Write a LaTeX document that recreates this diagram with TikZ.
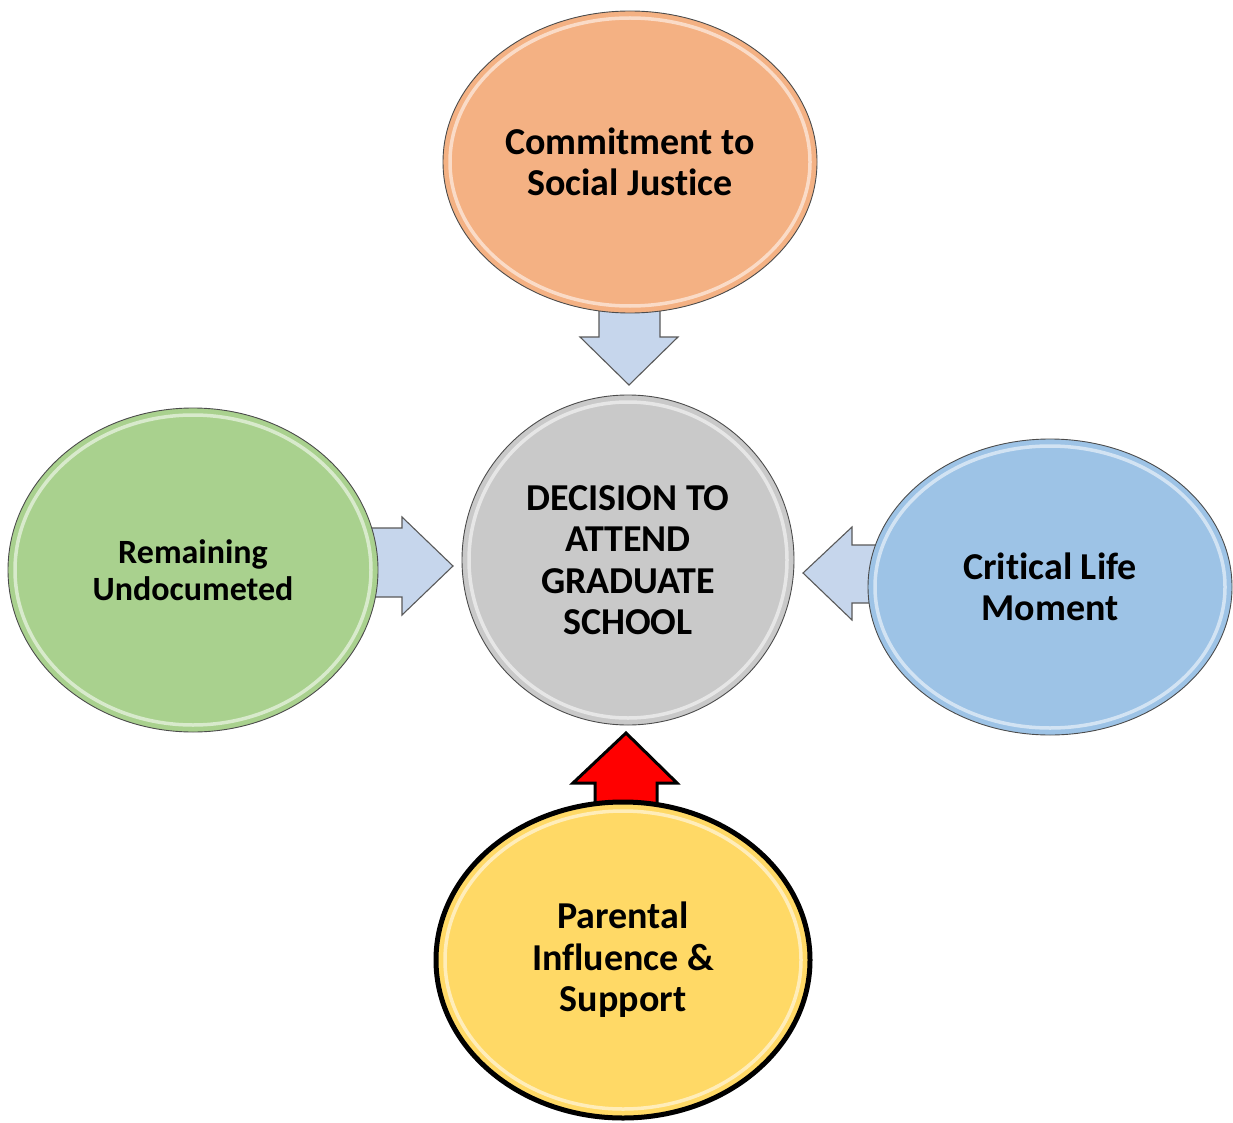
\documentclass[tikz,border=0pt]{standalone}
\usepackage{fontspec}
\setmainfont{Carlito}[Ligatures=NoCommon]
\usetikzlibrary{shapes.geometric}
\definecolor{commitfill}{HTML}{F4B183}
\definecolor{decidefill}{HTML}{C9C9C9}
\definecolor{remainfill}{HTML}{A9D18E}
\definecolor{criticalfill}{HTML}{9DC3E6}
\definecolor{parentfill}{HTML}{FFD966}
\definecolor{pushfill}{HTML}{C6D6EC}
\tikzstyle{bubble}=[ellipse, draw=black!70, line width=0.9pt, inner sep=0pt, align=center,
  font=\bfseries\fontsize{38}{41.5}\selectfont]
\tikzstyle{gloss}=[draw=white, opacity=0.55, line width=3.5pt]
\tikzstyle{push}=[draw=black!65, line width=1.1pt, fill=pushfill, line join=miter]

\begin{document}
\begin{tikzpicture}[x=1pt, y=-1pt]
\useasboundingbox (0,0) rectangle (1233,1123);
% Block arrows (tails hidden under the bubbles)
    \draw[push] (599,290) -- (660,290) -- (660,337) -- (678,337) -- (629,385)
        -- (580,337) -- (599,337) -- cycle;
    \draw[push] (360,528) -- (402,528) -- (402,517) -- (453,566) -- (402,615)
        -- (402,597) -- (360,597) -- cycle;
    \draw[push] (890,545) -- (852,545) -- (852,527) -- (803,573) -- (852,620)
        -- (852,603) -- (890,603) -- cycle;
    \draw[draw=black, line width=3pt, fill=red] (595,820) -- (595,783) -- (573,783)
        -- (626,733) -- (677,783) -- (657,783) -- (657,820) -- cycle;
% Bubbles
    \node[bubble, fill=commitfill, minimum width=374pt, minimum height=302pt]
        (commit) at (630,162) {Commitment to\\Social Justice};
    \node[bubble, fill=decidefill, minimum width=332pt, minimum height=330pt]
        (decide) at (628,560) {DECISION TO\\ATTEND\\GRADUATE\\SCHOOL};
    \node[bubble, fill=remainfill, minimum width=370pt, minimum height=324pt,
        font=\bfseries\fontsize{34}{37}\selectfont]
        (remain) at (193,570) {Remaining\\Undocumeted};
    \node[bubble, fill=criticalfill, minimum width=364pt, minimum height=296pt]
        (critical) at (1050,587) {Critical Life\\Moment};
    \node[bubble, fill=parentfill, draw=black, line width=5pt,
        minimum width=374pt, minimum height=316pt]
        (parent) at (623,960) {Parental\\Influence \&\\Support};
% Glossy rims
    \draw[gloss] (commit.center) ellipse [x radius=180pt, y radius=144pt];
    \draw[gloss] (decide.center) ellipse [x radius=159pt, y radius=158pt];
    \draw[gloss] (remain.center) ellipse [x radius=178pt, y radius=155pt];
    \draw[gloss] (critical.center) ellipse [x radius=175pt, y radius=141pt];
    \draw[gloss] (parent.center) ellipse [x radius=178pt, y radius=149pt];
\end{tikzpicture}
\end{document}
